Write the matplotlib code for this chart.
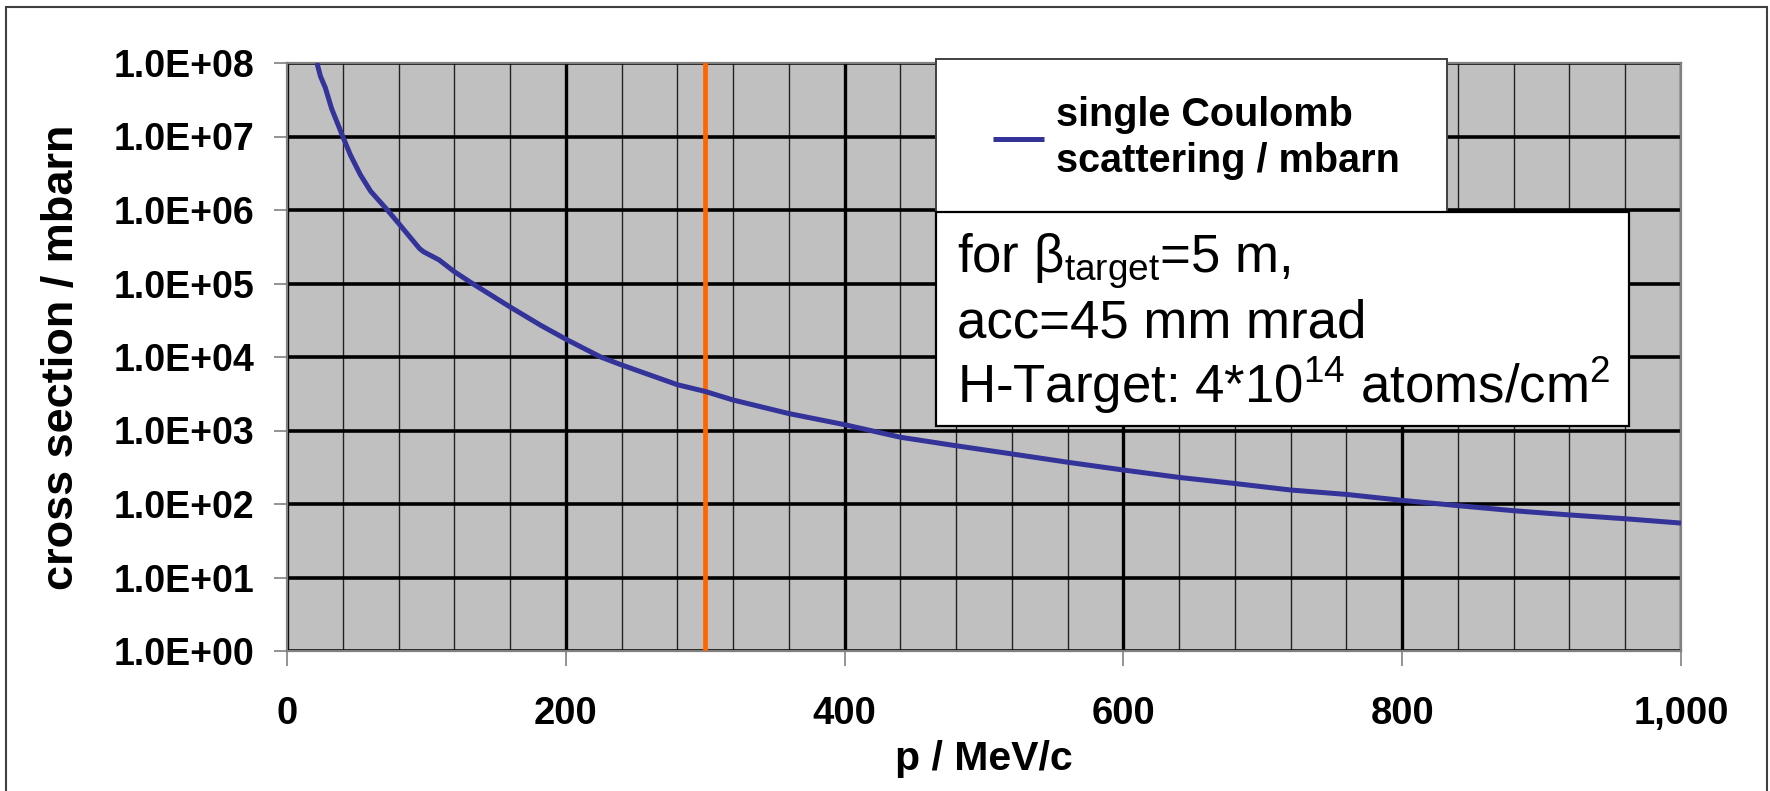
import matplotlib
matplotlib.use("Agg")
import matplotlib.pyplot as plt
from matplotlib.patches import Rectangle
from matplotlib.ticker import FixedLocator, FuncFormatter, NullFormatter

plt.rcParams['font.family'] = ['Liberation Sans', 'DejaVu Sans']
plt.rcParams['mathtext.fontset'] = 'custom'
plt.rcParams['mathtext.rm'] = 'Liberation Sans'
plt.rcParams['mathtext.it'] = 'Liberation Sans:italic'
plt.rcParams['mathtext.bf'] = 'Liberation Sans:bold'

# momentum / MeV/c and single Coulomb scattering cross section / mbarn
p_mev = [21.5, 24, 27.5, 32, 40, 45.5, 52.7, 60, 72, 80, 95, 98, 109, 120,
         133, 160, 182, 200, 225, 240, 280, 300, 320, 360, 400, 440, 480,
         520, 560, 600, 640, 680, 720, 760, 800, 840, 880, 920, 960, 1000]
sigma_mbarn = [1.0e8, 6.6e7, 4.6e7, 2.4e7, 1.0e7, 5.6e6, 3.0e6, 1.8e6, 1.0e6,
               6.6e5, 3.0e5, 2.7e5, 2.1e5, 1.45e5, 1.0e5, 4.8e4, 2.7e4, 1.75e4,
               1.0e4, 7.8e3, 4.2e3, 3.4e3, 2.6e3, 1.7e3, 1.2e3, 8.1e2, 6.2e2,
               4.8e2, 3.7e2, 2.9e2, 2.3e2, 1.9e2, 1.55e2, 1.35e2, 1.12e2, 95,
               81, 71, 63, 55]
p_marker = 300

x_major = [0, 200, 400, 600, 800, 1000]
x_minor = list(range(0, 1001, 40))
y_decades = [10.0 ** k for k in range(0, 9)]

legend_label = "single Coulomb\nscattering / mbarn"
info_lines = ["for β$_{\\mathrm{target}}$=5 m,",
              "acc=45 mm mrad",
              r"H-Target: 4*10$^{14}$ atoms/cm$^{2}$"]

W, H = 1770, 791
fig = plt.figure(figsize=(W / 100, H / 100), dpi=100)


def fx(px):
    return px / W


def fy(py):
    return 1 - py / H


L, R, T, B = 287, 1681, 63, 651
ax = fig.add_axes([fx(L), fy(B), fx(R) - fx(L), fy(T) - fy(B)])
ax.set_facecolor('#C0C0C0')

ax.plot(p_mev, sigma_mbarn, color='#333399', lw=3.6, zorder=4,
        solid_capstyle='butt', label=legend_label)
ax.axvline(p_marker, color='#FF6600', lw=3.4, zorder=3)

ax.set_yscale('log')
ax.set_xlim(0, 1000)
ax.set_ylim(1, 1e8)

ax.xaxis.set_major_locator(FixedLocator(x_major))
ax.xaxis.set_minor_locator(FixedLocator(x_minor))
ax.yaxis.set_major_locator(FixedLocator(y_decades))
ax.yaxis.set_minor_locator(FixedLocator([]))
ax.yaxis.set_minor_formatter(NullFormatter())
ax.xaxis.set_major_formatter(FuncFormatter(lambda v, pos: f"{int(v):,}"))
ax.yaxis.set_major_formatter(FuncFormatter(lambda v, pos: f"{v:.1E}"))

ax.grid(True, which='minor', axis='x', color='#222222', lw=1.0, zorder=1)
ax.grid(True, which='major', axis='x', color='black', lw=2.4, zorder=2)
ax.grid(True, which='major', axis='y', color='black', lw=2.6, zorder=2)
ax.set_axisbelow(True)

for s in ax.spines.values():
    s.set_color('#808080')
    s.set_linewidth(1.6)

ax.tick_params(axis='x', which='major', direction='out', length=10.5,
               width=1.2, color='#808080', pad=22, labelsize=27.5)
ax.tick_params(axis='x', which='minor', length=0)
ax.tick_params(axis='y', which='major', direction='out', length=9.5,
               width=1.2, color='#808080', pad=14, labelsize=27)
for lab in ax.get_xticklabels() + ax.get_yticklabels():
    lab.set_fontweight('bold')

ax.set_xlabel("p / MeV/c", fontsize=29.5, fontweight='bold')
ax.xaxis.set_label_coords(0.5, (B - 759) / (B - T))
ax.xaxis.label.set_verticalalignment('center')
ax.set_ylabel("cross section / mbarn", fontsize=32.5, fontweight='bold')
ax.yaxis.set_label_coords((61 - L) / (R - L), 0.5)
ax.yaxis.label.set_verticalalignment('center')

# legend box
fig.add_artist(Rectangle((fx(936), fy(212)), fx(1447) - fx(936), fy(59) - fy(212),
                         transform=fig.transFigure, facecolor='white',
                         edgecolor='#404040', lw=1.4, zorder=10))
handles, labels = ax.get_legend_handles_labels()
leg = fig.legend(handles, labels, loc='center left',
                 bbox_to_anchor=(fx(957), fy(138)), frameon=False,
                 handlelength=1.3, handletextpad=0.3,
                 prop={'family': ['Liberation Sans'], 'weight': 'bold', 'size': 28.5})
leg.set_zorder(11)
for t in leg.get_texts():
    t.set_linespacing(1.25)

# parameter box
fig.add_artist(Rectangle((fx(936), fy(426)), fx(1629) - fx(936), fy(212) - fy(426),
                         transform=fig.transFigure, facecolor='white',
                         edgecolor='black', lw=1.6, zorder=10))
for i, line in enumerate(info_lines):
    fig.text(fx(957), fy(273 + 65 * i), line, fontsize=38, va='baseline',
             ha='left', zorder=12)

# chart frame
fig.add_artist(Rectangle((fx(6), fy(H + 5)), fx(1767) - fx(6), fy(7) - fy(H + 5),
                         transform=fig.transFigure, facecolor='none',
                         edgecolor='#404040', lw=1.5, zorder=0))

fig.savefig("out.png", dpi=100)
